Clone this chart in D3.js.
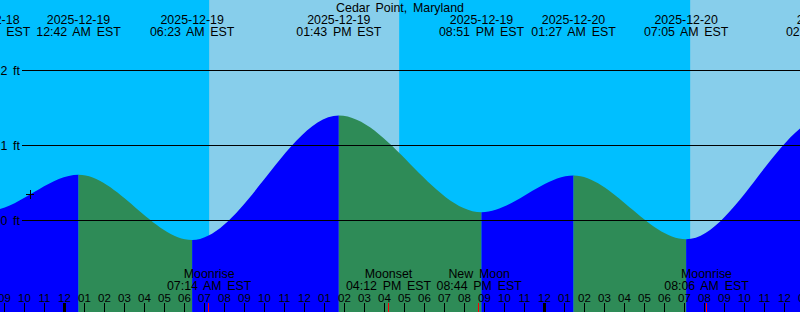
<!DOCTYPE html>
<html><head><meta charset="utf-8">
<script src="https://cdn.jsdelivr.net/npm/d3@7"></script>
<style>
html,body{margin:0;padding:0;background:#fff;}
svg{display:block;}
text{font-family:"Liberation Sans",Arial,sans-serif;fill:#000;}
</style></head>
<body><svg id="c" width="800" height="312"></svg>
<script>
// ---- data ----
const title = "Cedar Point, Maryland";
const tideTimes  = ["2025-12-18T13:00","2025-12-18T20:10","2025-12-19T00:42","2025-12-19T06:23","2025-12-19T13:43","2025-12-19T20:51","2025-12-20T01:27","2025-12-20T07:05","2025-12-20T14:12","2025-12-20T20:50"];
const tideLevels = [1.40, 0.13, 0.61, -0.26, 1.40, 0.11, 0.60, -0.25, 1.40, 0.10];
const sunTimes   = ["2025-12-18T16:43","2025-12-19T07:14","2025-12-19T16:44","2025-12-20T07:17","2025-12-20T16:45"];
const sunEvents  = ["set","rise","set","rise","set"];
const moonTimes  = ["2025-12-19T07:14","2025-12-19T16:12","2025-12-19T20:44","2025-12-20T08:06"];
const moonEvents = ["Moonrise","Moonset","New Moon","Moonrise"];
const levelTicks = [0, 1, 2];
const levelTickLabels = ["0 ft","1 ft","2 ft"];
const markTime = "2025-12-18T22:16";
const markLevel = 0.35;

// ---- helpers ----
const parse = s => new Date(s + ":00Z");
const W = 800, H = 312;
const x = d3.scaleUtc().domain([parse("2025-12-19T00:00"), parse("2025-12-20T00:00")]).range([64.5, 544.5]);
const y = d3.scaleLinear().domain([0, 2]).range([220.5, 70.5]);
const t0 = x.invert(0), t1 = x.invert(W);
const fmtDate = d3.utcFormat("%Y-%m-%d");
const fmtTime = d3.utcFormat("%I:%M %p EST");
const FS = 12.4, WS = 2.3;

const svg = d3.select("#c");
const NIGHT = "#00BFFF", DAY = "#87CEEB", RISE = "#0000FF", FALL = "#2E8B57";

// background night then day intervals
svg.append("rect").attr("x",0).attr("y",0).attr("width",W).attr("height",H).attr("fill",NIGHT);
sunEvents.forEach((e,i) => {
  if (e === "rise") {
    const a = x(parse(sunTimes[i]));
    const b = i+1 < sunTimes.length ? x(parse(sunTimes[i+1])) : W;
    svg.append("rect").attr("x",a).attr("y",0).attr("width",b-a).attr("height",H).attr("fill",DAY);
  }
});

// tide area
const tide = tideTimes.map((t,i) => ({t: parse(t), v: tideLevels[i]}));
const area = d3.area().x(d => x(d.t)).y0(H).y1(d => y(d.v)).curve(d3.curveMonotoneX);
const defs = svg.append("defs");
for (let i = 0; i < tide.length - 1; i++) {
  const a = x(tide[i].t), b = x(tide[i+1].t);
  defs.append("clipPath").attr("id","seg"+i).append("rect")
    .attr("x",a).attr("y",0).attr("width",b-a).attr("height",H);
  svg.append("path").datum(tide).attr("d",area)
    .attr("fill", tide[i+1].v > tide[i].v ? RISE : FALL)
    .attr("clip-path","url(#seg"+i+")");
}

// level grid lines
levelTicks.forEach((v,i) => {
  svg.append("line").attr("x1",22).attr("x2",W).attr("y1",y(v)).attr("y2",y(v))
    .attr("stroke","#000").attr("stroke-width",1);
  svg.append("text").attr("x",20).attr("y",y(v)+4.5).attr("text-anchor","end")
    .attr("font-size",FS).attr("word-spacing",WS).text(levelTickLabels[i]);
});

// current marker
const mx = Math.round(x(parse(markTime))) , my = Math.round(y(markLevel));
svg.append("line").attr("x1",mx-4).attr("x2",mx+4).attr("y1",my+0.5).attr("y2",my+0.5).attr("stroke","#000");
svg.append("line").attr("x1",mx+0.5).attr("x2",mx+0.5).attr("y1",my-4).attr("y2",my+5).attr("stroke","#000");

// title
svg.append("text").attr("x",W/2).attr("y",11.5).attr("text-anchor","middle")
  .attr("font-size",FS).attr("word-spacing",WS).text(title);

// tide labels (only those that can reach the visible area)
tide.filter(d => x(d.t) > -60 && x(d.t) < W + 60).forEach(d => {
  const cx = x(d.t);
  svg.append("text").attr("x",cx).attr("y",24).attr("text-anchor","middle").attr("font-size",FS).text(fmtDate(d.t));
  svg.append("text").attr("x",cx).attr("y",36).attr("text-anchor","middle").attr("font-size",FS)
    .attr("word-spacing",WS).text(fmtTime(d.t));
});

// hour ticks
const hours = d3.utcHour.range(d3.utcHour.floor(t0), d3.utcHour.offset(t1,1));
hours.forEach(h => {
  const hx = Math.round(x(h) - 0.5) + 0.5;
  const mid = h.getUTCHours() === 0;
  svg.append("line").attr("x1",hx).attr("x2",hx).attr("y1",303).attr("y2",H)
    .attr("stroke","#000").attr("stroke-width", mid ? 3 : 1);
  svg.append("text").attr("x",hx).attr("y",301.5).attr("text-anchor","middle").attr("font-size",11.5)
    .text(d3.utcFormat("%I")(h));
});

// moon events
moonTimes.forEach((t,i) => {
  const d = parse(t), mx2 = Math.round(x(d) - 1) + 0.5;
  svg.append("line").attr("x1",mx2).attr("x2",mx2).attr("y1",303).attr("y2",H).attr("stroke","#FF0000");
  svg.append("text").attr("x",x(d)).attr("y",278).attr("text-anchor","middle").attr("font-size",FS)
    .attr("word-spacing",WS).text(moonEvents[i]);
  svg.append("text").attr("x",x(d)).attr("y",290).attr("text-anchor","middle").attr("font-size",FS)
    .attr("word-spacing",WS).text(fmtTime(d));
});
</script></body></html>
